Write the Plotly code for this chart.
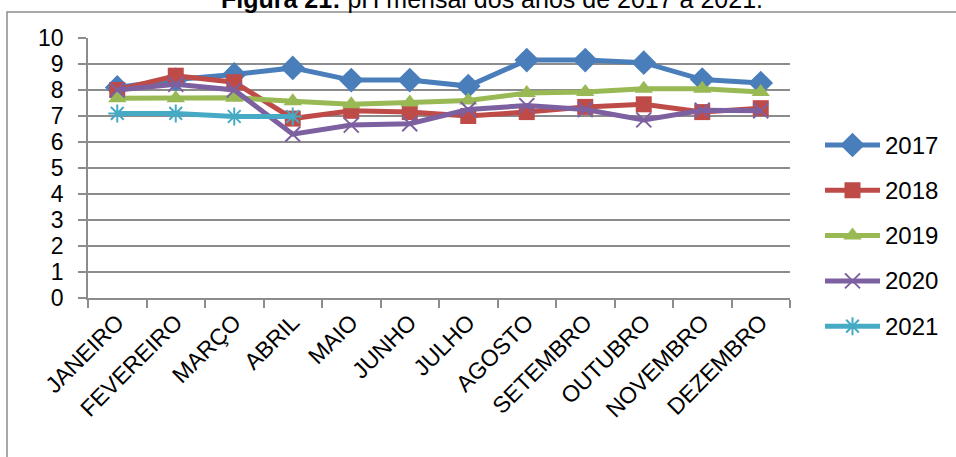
import plotly.graph_objects as go

meses = ["JANEIRO", "FEVEREIRO", "MARÇO", "ABRIL", "MAIO", "JUNHO", "JULHO",
         "AGOSTO", "SETEMBRO", "OUTUBRO", "NOVEMBRO", "DEZEMBRO"]

ph_2017 = [8.1, 8.4, 8.6, 8.85, 8.38, 8.38, 8.15, 9.15, 9.15, 9.05, 8.4, 8.27]
ph_2018 = [8.0, 8.55, 8.3, 6.9, 7.2, 7.15, 7.0, 7.15, 7.35, 7.45, 7.15, 7.3]
ph_2019 = [7.68, 7.68, 7.7, 7.57, 7.45, 7.52, 7.6, 7.88, 7.92, 8.05, 8.05, 7.92]
ph_2020 = [8.0, 8.22, 8.0, 6.3, 6.65, 6.7, 7.25, 7.4, 7.25, 6.85, 7.22, 7.2]
ph_2021 = [7.1, 7.1, 6.98, 6.98, None, None, None, None, None, None, None, None]

anos = ["2017", "2018", "2019", "2020", "2021"]
valores = [ph_2017, ph_2018, ph_2019, ph_2020, ph_2021]
cores = ["#4A7EBB", "#BE4B48", "#98B954", "#7D60A0", "#46AAC5"]
simbolos = ["diamond", "square", "triangle-up", "x-thin-open", "asterisk-open"]
tamanhos = [19, 16, 16, 15, 15]
contornos = [0, 0, 0, 2, 2]

W, H = 956, 457
L, R, T, B = 88, 6, 38, 100
pw, ph = W - L - R, H - T - B
PLOT_RIGHT = 790          # right edge of the data area, in pixels
PLOT_BOTTOM = 298         # bottom edge of the data area, in pixels


def px_x(p):
    return (p - L) / pw


def px_y(p):
    return (H - B - p) / ph


def marcador(i):
    m = dict(symbol=simbolos[i], size=tamanhos[i], color=cores[i])
    if contornos[i]:
        m["line"] = dict(color=cores[i], width=contornos[i])
    return m


fig = go.Figure()

# data series
for i, nome in enumerate(anos):
    fig.add_trace(go.Scatter(
        x=meses, y=valores[i], name=nome, mode="lines+markers",
        line=dict(color=cores[i], width=5), marker=marcador(i),
        connectgaps=False, showlegend=False,
    ))

# key on the right: one short line with its symbol per year, on a helper axis
for i, nome in enumerate(anos):
    fig.add_trace(go.Scatter(
        x=[0, 0.5, 1], y=[i, i, i], mode="lines+markers",
        line=dict(color=cores[i], width=5),
        marker=marcador(i),
        selectedpoints=[1], selected=dict(marker=dict(opacity=1)),
        unselected=dict(marker=dict(opacity=0)),
        xaxis="x2", yaxis="y2", showlegend=False, hoverinfo="skip",
    ))

KEY_TOP, KEY_STEP = 145, 45.3
pad = 0.5
key_top_px = KEY_TOP - pad * KEY_STEP
key_bot_px = KEY_TOP + (4 + pad) * KEY_STEP

annotations = [dict(
    xref="paper", yref="paper", x=px_x(492), y=px_y(-1),
    xanchor="center", yanchor="middle", showarrow=False,
    text="<b>Figura 21:</b> pH mensal dos anos de 2017 a 2021.",
    font=dict(size=25, color="black"),
)]
for i, nome in enumerate(anos):
    annotations.append(dict(
        xref="paper", yref="y2", x=px_x(883), y=i,
        xanchor="left", yanchor="middle", showarrow=False,
        text=nome, font=dict(size=24, color="black"),
    ))

fig.update_layout(
    width=W, height=H,
    margin=dict(l=L, r=R, t=T, b=B),
    paper_bgcolor="white", plot_bgcolor="rgba(0,0,0,0)",
    font=dict(family="Liberation Sans, Arial, sans-serif", color="black"),
    showlegend=False,
    shapes=[dict(
        type="rect", xref="paper", yref="paper",
        x0=px_x(7), x1=px_x(975), y0=px_y(475), y1=px_y(12),
        line=dict(color="#8c8c8c", width=1.5), layer="below",
    )],
    annotations=annotations,
    xaxis=dict(
        domain=[0, px_x(PLOT_RIGHT)],
        type="category", categoryorder="array", categoryarray=meses,
        showgrid=False, showline=True, linecolor="#8c8c8c", linewidth=1.5,
        ticks="outside", ticklen=8, tickcolor="#8c8c8c", tickwidth=1.5,
        tickson="boundaries", tickangle=-45, tickfont=dict(size=23),
        range=[-0.5, 11.5], fixedrange=True, anchor="y",
    ),
    yaxis=dict(
        domain=[px_y(PLOT_BOTTOM), 1],
        range=[0, 10], dtick=1, showgrid=True, gridcolor="#8c8c8c",
        gridwidth=1.5, showline=True, linecolor="#8c8c8c", linewidth=1.5,
        ticks="outside", ticklen=8, tickcolor="#8c8c8c", tickwidth=1.5,
        tickfont=dict(size=23), zeroline=False, ticklabelstandoff=10,
        fixedrange=True, anchor="x",
    ),
    xaxis2=dict(
        domain=[px_x(825), px_x(880)], range=[0, 1], anchor="y2",
        visible=False, fixedrange=True,
    ),
    yaxis2=dict(
        domain=[px_y(key_bot_px), px_y(key_top_px)],
        range=[4 + pad, -pad], anchor="x2",
        visible=False, fixedrange=True,
    ),
)

fig.write_html("out.html")
